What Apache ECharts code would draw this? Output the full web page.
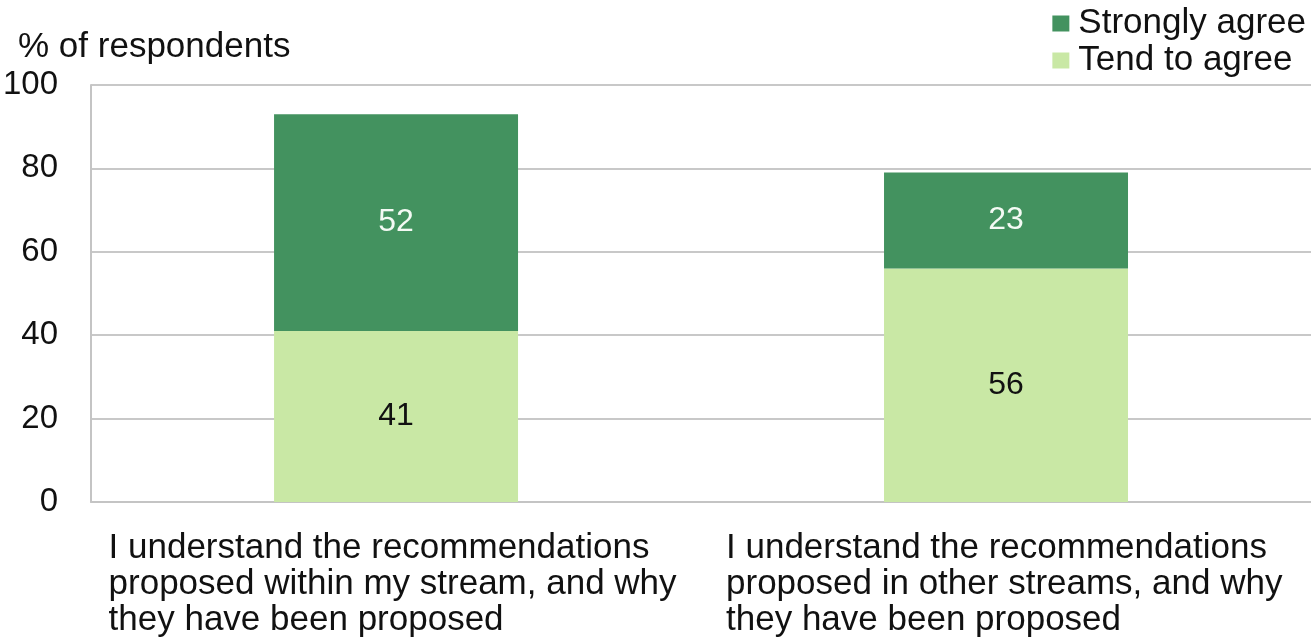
<!DOCTYPE html>
<html>
<head>
<meta charset="utf-8">
<script src="https://cdn.jsdelivr.net/npm/echarts@6/dist/echarts.min.js"></script>
<style>
  html, body { margin: 0; padding: 0; background: #fff; }
  #main { width: 1311px; height: 643px; }
</style>
</head>
<body>
<div id="main"></div>
<script>
// chart data
var categories = [
  'I understand the recommendations\nproposed within my stream, and why\nthey have been proposed',
  'I understand the recommendations\nproposed in other streams, and why\nthey have been proposed'
];
var tendToAgree = [41, 56];
var stronglyAgree = [52, 23];
var seriesNames = ['Tend to agree', 'Strongly agree'];
var yMin = 0, yMax = 100, yStep = 20;

var FONT = '"Liberation Sans", Arial, sans-serif';
var myChart = echarts.init(document.getElementById('main'));

var labelText = { align: 'left', fontSize: 35, lineHeight: 36, color: '#111', fontFamily: FONT };

var option = {
  animation: false,
  textStyle: { fontFamily: FONT },
  title: {
    text: '% of respondents',
    left: 13,
    top: 25,
    textStyle: { fontSize: 35, fontWeight: 'normal', color: '#111', fontFamily: FONT }
  },
  legend: {
    data: ['Strongly agree', 'Tend to agree'],
    orient: 'vertical',
    right: 0,
    top: 1,
    itemWidth: 17,
    itemHeight: 16,
    itemGap: 2,
    icon: 'rect',
    textStyle: { fontSize: 35, color: '#111', fontFamily: FONT, padding: [0, 0, 0, 4] }
  },
  grid: {
    left: 88,
    right: -6,
    top: 85,
    bottom: 141,
    containLabel: false
  },
  xAxis: {
    type: 'category',
    data: categories,
    axisLine: { show: true, lineStyle: { color: '#c4c4c4', width: 2 } },
    axisTick: { show: false },
    axisLabel: {
      interval: 0,
      margin: 28,
      align: 'center',
      formatter: function (v, i) {
        var st = i === 0 ? 'a' : 'b';
        return v.split('\n').map(function (s) { return '{' + st + '|' + s + '}'; }).join('\n');
      },
      rich: {
        a: Object.assign({ width: 575 }, labelText),
        b: Object.assign({ width: 560 }, labelText)
      }
    }
  },
  yAxis: {
    type: 'value',
    min: yMin,
    max: yMax,
    interval: yStep,
    axisLine: { show: true, lineStyle: { color: '#c4c4c4', width: 2 } },
    axisTick: { show: false },
    splitLine: { show: true, lineStyle: { color: '#c8c8c8', width: 2 } },
    axisLabel: { margin: 33, fontSize: 33, color: '#111', fontFamily: FONT }
  },
  series: [
    {
      name: seriesNames[0],
      type: 'bar',
      stack: 'total',
      barWidth: '40%',
      data: tendToAgree,
      itemStyle: { color: '#c9e8a5' },
      label: { show: true, position: 'inside', fontSize: 32, color: '#111', fontFamily: FONT }
    },
    {
      name: seriesNames[1],
      type: 'bar',
      stack: 'total',
      barWidth: '40%',
      data: stronglyAgree,
      itemStyle: { color: '#43925f' },
      label: { show: true, position: 'inside', fontSize: 32, color: '#f4faf4', fontFamily: FONT }
    }
  ]
};

myChart.setOption(option);
</script>
</body>
</html>
